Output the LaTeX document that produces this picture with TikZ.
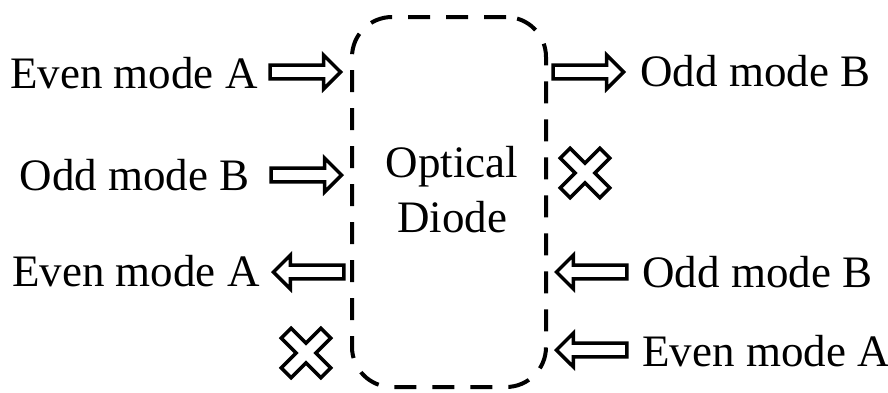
\documentclass[tikz,border=0pt]{standalone}
\usepackage{fontspec}
\setmainfont{Liberation Serif}
\usetikzlibrary{shapes.arrows}

\tikzset{
	modetext/.style={font=\fontsize{22.5}{27.5}\selectfont, inner sep=0pt},
	fat arrow/.style={single arrow, draw, line width=1.75pt, fill=white, inner sep=2.6pt,
		minimum height=35.2pt, single arrow head extend=5pt, single arrow tip angle=90, anchor=tip},
	back/.style={shape border rotate=180},
	diodebox/.style={draw, line width=2pt, dash pattern=on 11pt off 8pt, rounded corners=20pt,
		minimum width=97pt, minimum height=185pt},
	nogo/.pic={\draw[line width=1.75pt, rotate=45] (7,7) -- (28,7) -- (28,-7) -- (7,-7) -- (7,-28) -- (-7,-28)
		-- (-7,-7) -- (-28,-7) -- (-28,7) -- (-7,7) -- (-7,28) -- (7,28) -- cycle;}
}

\begin{document}
\begin{tikzpicture}[x=0.5pt, y=-0.5pt]
		\useasboundingbox (0,0) rectangle (888,392);
		\node[diodebox] (diode) at (449, 202) {};
		\node[modetext, align=center] (name) at (452, 190) {Optical\\Diode};
		
		% left side
		\node[modetext, anchor=base east] (evenin) at (258, 88) {Even mode A};
		\node[fat arrow] (evenina) at (343, 72) {};
		\node[modetext, anchor=base east] (oddin) at (250, 190) {Odd mode B};
		\node[fat arrow] (oddina) at (344, 175) {};
		\node[modetext, anchor=base east] (evenout) at (260, 286) {Even mode A};
		\node[fat arrow, back] (evenouta) at (271, 272) {};
		\pic at (306, 353) {nogo};
		
		% right side
		\node[fat arrow] (oddouta) at (626, 72) {};
		\node[modetext, anchor=base west] (oddout) at (640, 86) {Odd mode B};
		\pic at (585, 173) {nogo};
		\node[fat arrow, back] (oddbacka) at (554, 272) {};
		\node[modetext, anchor=base west] (oddback) at (642, 287) {Odd mode B};
		\node[fat arrow, back] (evenbacka) at (554, 350) {};
		\node[modetext, anchor=base west] (evenback) at (642, 366) {Even mode A};
	\end{tikzpicture}
\end{document}
